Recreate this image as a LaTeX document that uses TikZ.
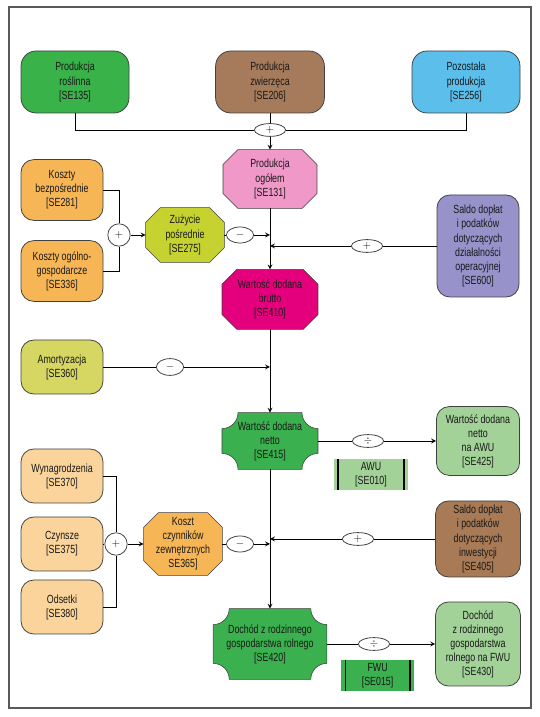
\documentclass[tikz,border=0pt]{standalone}
\usepackage{fontspec}
\setmainfont{Liberation Sans}[FakeStretch=0.75]
\usetikzlibrary{shapes.geometric,backgrounds,calc}

\definecolor{zielen}{RGB}{57,178,74}
\definecolor{braz}{RGB}{166,123,91}
\definecolor{niebieski}{RGB}{92,190,235}
\definecolor{roz}{RGB}{240,152,200}
\definecolor{pomarancz}{RGB}{246,182,86}
\definecolor{oliwka}{RGB}{198,210,48}
\definecolor{fiolet}{RGB}{152,146,202}
\definecolor{purpura}{RGB}{228,0,124}
\definecolor{zolty}{RGB}{214,214,98}
\definecolor{ziel}{RGB}{58,176,78}
\definecolor{jasnoziel}{RGB}{162,210,152}
\definecolor{brzoskwinia}{RGB}{250,212,155}
\definecolor{braz2}{RGB}{168,122,86}

\tikzset{
  blok/.style={draw=black!75, rounded corners=0.32cm, fill=#1, align=center,
    inner sep=1pt, minimum width=2.05cm, minimum height=1.35cm},
  pole/.style={align=center, inner sep=0pt},
  znak/.style={draw=black!75, ellipse, fill=white, inner sep=0pt,
    minimum width=0.78cm, minimum height=0.32cm, font=\scriptsize},
  kolko/.style={draw=black!75, circle, fill=white, inner sep=0pt,
    minimum size=0.56cm, font=\scriptsize},
  jedn/.style={fill=#1, align=center, inner sep=0pt,
    minimum width=1.85cm, minimum height=0.775cm}
}

% osmiokat ze scietymi rogami
\newcommand{\osiemkat}[2]{%
  \begin{scope}[on background layer]
  \filldraw[fill=#2, draw=black!75]
    ($(#1.north west)+(0.37,0)$) -- ($(#1.north east)+(-0.37,0)$)
    -- ($(#1.north east)+(0,-0.37)$) -- ($(#1.south east)+(0,0.37)$)
    -- ($(#1.south east)+(-0.37,0)$) -- ($(#1.south west)+(0.37,0)$)
    -- ($(#1.south west)+(0,0.37)$) -- ($(#1.north west)+(0,-0.37)$) -- cycle;
  \end{scope}}

% prostokat z wycietymi rogami
\newcommand{\wciecie}[2]{%
  \begin{scope}[on background layer]
  \filldraw[fill=#2, draw=black!75]
    ($(#1.north west)+(0.4,0)$) -- ($(#1.north east)+(-0.4,0)$)
    arc[start angle=180, end angle=270, radius=0.4]
    -- ($(#1.south east)+(0,0.4)$)
    arc[start angle=90, end angle=180, radius=0.4]
    -- ($(#1.south west)+(0.4,0)$)
    arc[start angle=0, end angle=90, radius=0.4]
    -- ($(#1.north west)+(0,-0.4)$)
    arc[start angle=-90, end angle=0, radius=0.4] -- cycle;
  \end{scope}}

\begin{document}
\begin{tikzpicture}[font=\fontsize{8.4}{10}\selectfont, >=stealth, text=black!90,
    line width=0.55pt]
  \useasboundingbox (0,0) rectangle (13.475,17.925);
  % ramka
  \draw[line width=1.2pt, black!65] (0.225,0.225) rectangle (13.275,17.75);

  % produkcja
  \node[blok=zielen, rounded corners=0.38cm, minimum width=2.7cm, minimum height=1.55cm]
    (prodr) at (1.875,15.875) {Produkcja\\roślinna\\{[SE135]}};
  \node[blok=braz, rounded corners=0.38cm, minimum width=2.72cm, minimum height=1.55cm]
    (prodz) at (6.75,15.875) {Produkcja\\zwierzęca\\{[SE206]}};
  \node[blok=niebieski, rounded corners=0.38cm, minimum width=2.7cm, minimum height=1.55cm]
    (prodp) at (11.65,15.875) {Pozostała\\produkcja\\{[SE256]}};
  \node[znak] (plus1) at (6.75,14.675) {$+$};
  \draw (prodr.south) |- (plus1.west);
  \draw (prodp.south) |- (plus1.east);
  \draw (prodz) -- (plus1);
  \node[pole, minimum width=2.33cm, minimum height=1.45cm]
    (ogolem) at (6.75,13.45) {Produkcja\\ogółem\\{[SE131]}};
  \osiemkat{ogolem}{roz}
  \draw[->] (plus1) -- (ogolem);

  % zuzycie posrednie
  \node[blok=pomarancz, minimum height=1.52cm]
    (bezposr) at (1.55,13.175) {Koszty\\bezpośrednie\\{[SE281]}};
  \node[blok=pomarancz, minimum height=1.52cm]
    (ogoln) at (1.55,11.15) {Koszty ogólno-\\gospodarcze\\{[SE336]}};
  \node[kolko] (plus2) at (2.975,12.05) {$+$};
  \node[pole, minimum width=1.95cm, minimum height=1.35cm]
    (zuzycie) at (4.625,12.05) {Zużycie\\pośrednie\\{[SE275]}};
  \osiemkat{zuzycie}{oliwka}
  \node[znak, minimum width=0.68cm, minimum height=0.4cm] (minus1) at (6.0,12.05) {$-$};
  \draw (bezposr.east) -| (plus2);
  \draw (ogoln.east) -| (plus2);
  \draw[->] (plus2) -- (zuzycie);
  \draw (zuzycie) -- (minus1);
  \draw[->] (minus1) -- (minus1 -| ogolem.south);

  % saldo operacyjne
  \node[blok=fiolet, minimum height=2.55cm]
    (salop) at (11.95,11.775) {Saldo dopłat\\i podatków\\dotyczących\\działalności\\operacyjnej\\{[SE600]}};
  \node[znak] (plus3) at (9.175,11.775) {$+$};
  \draw (salop) -- (plus3);
  \draw[->] (plus3) -- (plus3 -| ogolem.south);

  % wartosc dodana brutto
  \node[pole, minimum width=2.38cm, minimum height=1.48cm]
    (brutto) at (6.75,10.44) {Wartość dodana\\brutto\\{[SE410]}};
  \osiemkat{brutto}{purpura}
  \draw[->] (ogolem) -- (brutto);

  % amortyzacja
  \node[blok=zolty] (amort) at (1.55,8.75) {Amortyzacja\\{[SE360]}};
  \node[znak, minimum width=0.68cm, minimum height=0.42cm] (minus2) at (4.25,8.75) {$-$};
  \draw (amort) -- (minus2);
  \draw[->] (minus2) -- (minus2 -| brutto.south);

  % wartosc dodana netto
  \node[pole, minimum width=2.38cm, minimum height=1.4cm]
    (netto) at (6.75,6.9) {Wartość dodana\\netto\\{[SE415]}};
  \wciecie{netto}{ziel}
  \draw[->] (brutto) -- (netto);
  \node[znak] (div1) at (9.2,6.9) {$\div$};
  \node[blok=jasnoziel, minimum width=2.08cm, minimum height=1.72cm]
    (nettoawu) at (11.95,6.9) {Wartość dodana\\netto\\na AWU\\{[SE425]}};
  \draw (netto) -- (div1);
  \draw[->] (div1) -- (nettoawu);
  \node[jedn=jasnoziel] (awu) at (9.275,6.0625) {AWU\\{[SE010]}};
  \foreach \s in {west,east}
    \draw[line width=1pt] ($(awu.north \s)!0.12!(awu.north)$) -- ($(awu.south \s)!0.12!(awu.south)$);

  % koszt czynnikow zewnetrznych
  \node[blok=brzoskwinia] (wynagr) at (1.55,6.025) {Wynagrodzenia\\{[SE370]}};
  \node[blok=brzoskwinia] (czynsze) at (1.55,4.325) {Czynsze\\{[SE375]}};
  \node[blok=brzoskwinia] (odsetki) at (1.55,2.75) {Odsetki\\{[SE380]}};
  \node[kolko] (plus5) at (2.9,4.325) {$+$};
  \node[pole, minimum width=1.95cm, minimum height=1.55cm]
    (koszt) at (4.575,4.325) {Koszt\\czynników\\zewnętrznych\\SE365]};
  \osiemkat{koszt}{pomarancz}
  \node[znak, minimum width=0.68cm, minimum height=0.4cm] (minus3) at (6.0,4.325) {$-$};
  \draw (wynagr.east) -| (plus5);
  \draw (odsetki.east) -| (plus5);
  \draw (czynsze) -- (plus5);
  \draw[->] (plus5) -- (koszt);
  \draw (koszt) -- (minus3);
  \draw[->] (minus3) -- (minus3 -| netto.south);

  % saldo inwestycyjne
  \node[blok=braz2, minimum width=2.12cm, minimum height=1.9cm]
    (salinw) at (11.95,4.45) {Saldo dopłat\\i podatków\\dotyczących\\inwestycji\\{[SE405]}};
  \node[znak] (plus4) at (8.95,4.45) {$+$};
  \draw (salinw) -- (plus4);
  \draw[->] (plus4) -- (plus4 -| netto.south);

  % dochod
  \node[pole, minimum width=2.82cm, minimum height=1.75cm]
    (dochod) at (6.75,1.825) {Dochód z rodzinnego\\gospodarstwa rolnego\\{[SE420]}};
  \wciecie{dochod}{ziel}
  \draw[->] (netto) -- (dochod);
  \node[znak] (div2) at (9.35,1.825) {$\div$};
  \node[blok=jasnoziel, minimum width=2.12cm, minimum height=2.1cm]
    (dochfwu) at (11.95,1.825) {Dochód\\z rodzinnego\\gospodarstwa\\rolnego na FWU\\{[SE430]}};
  \draw (dochod) -- (div2);
  \draw[->] (div2) -- (dochfwu);
  \node[jedn=ziel, minimum width=1.82cm] (fwu) at (9.44,1.0375) {FWU\\{[SE015]}};
  \foreach \s in {west,east}
    \draw[line width=1pt] ($(fwu.north \s)!0.12!(fwu.north)$) -- ($(fwu.south \s)!0.12!(fwu.south)$);
\end{tikzpicture}
\end{document}
